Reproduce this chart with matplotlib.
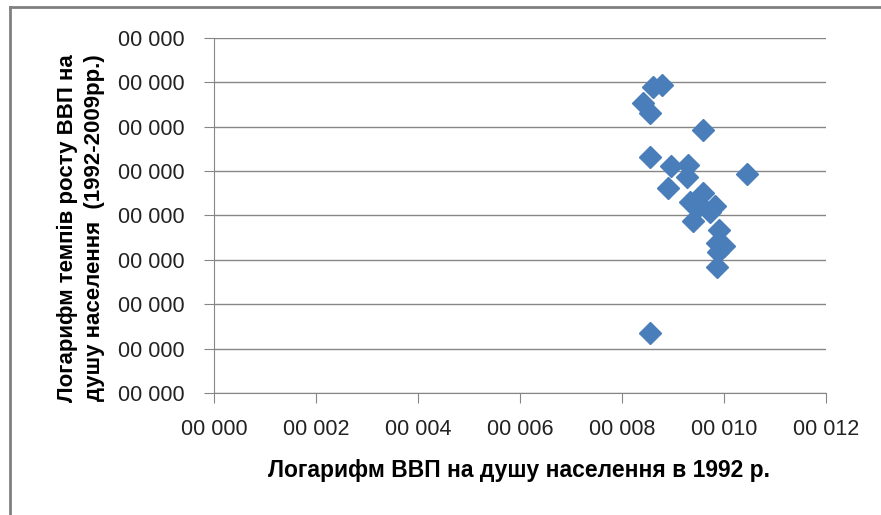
import matplotlib.pyplot as plt
from matplotlib.lines import Line2D

# values (axis units: x 0..12, y 0..8 grid steps)
x_vals = [8.61, 8.78, 8.42, 8.54, 9.58, 8.54, 8.97, 9.30, 9.28, 10.46,
          8.91, 9.59, 9.33, 9.53, 9.82, 9.73, 9.40, 9.91, 9.86, 9.99,
          9.89, 9.86, 8.54]
y_vals = [6.90, 6.94, 6.52, 6.31, 5.92, 5.31, 5.11, 5.14, 4.87, 4.93,
          4.61, 4.50, 4.31, 4.23, 4.20, 4.08, 3.88, 3.67, 3.37, 3.30,
          3.18, 2.84, 1.34]
x_ticks = [0, 2, 4, 6, 8, 10, 12]
x_tick_labels = ['00 000', '00 002', '00 004', '00 006', '00 008', '00 010', '00 012']
y_ticks = [0, 1, 2, 3, 4, 5, 6, 7, 8]
y_tick_labels = ['00 000'] * 9

x_title = 'Логарифм ВВП на душу населення в 1992 р.'
y_title = 'Логарифм темпів росту ВВП на\nдушу населення  (1992-2009рр.)'

plt.rcParams['font.family'] = ['Liberation Sans', 'DejaVu Sans']

fig = plt.figure(figsize=(8.81, 5.15), dpi=100)
ax = fig.add_axes([0.2429, 0.2369, 0.6947, 0.6899])

ax.plot(x_vals, y_vals, linestyle='none', marker='D', markersize=11.3,
        color='#4a7ebb', markeredgecolor='#4a7ebb', zorder=3)

ax.set_xlim(0, 12)
ax.set_ylim(0, 8)
ax.set_xticks(x_ticks)
ax.set_xticklabels(x_tick_labels)
ax.set_yticks(y_ticks)
ax.set_yticklabels(y_tick_labels)
ax.grid(axis='y', color='#868686', linewidth=1)
ax.set_axisbelow(True)
for side in ['top', 'right']:
    ax.spines[side].set_visible(False)
for side in ['left', 'bottom']:
    ax.spines[side].set_color('#868686')
ax.tick_params(axis='both', colors='#868686', labelcolor='#222222',
               labelsize=15.5, length=7, direction='out')
ax.tick_params(axis='x', pad=12)
ax.tick_params(axis='y', pad=14)

ax.set_xlabel(x_title, fontsize=16.5, fontweight='bold')
ax.xaxis.set_label_coords(0.498, -0.185)
ax.set_ylabel(y_title, fontsize=16, fontweight='bold', linespacing=1.4)
ax.yaxis.set_label_coords(-0.178, 0.465)

# frame round the chart
fig.add_artist(Line2D([0.011, 1.0], [0.986, 0.986], transform=fig.transFigure,
                      color='#808080', linewidth=2))
fig.add_artist(Line2D([0.011, 0.011], [0.0, 0.986], transform=fig.transFigure,
                      color='#808080', linewidth=2))

plt.savefig('out.png', dpi=100)
